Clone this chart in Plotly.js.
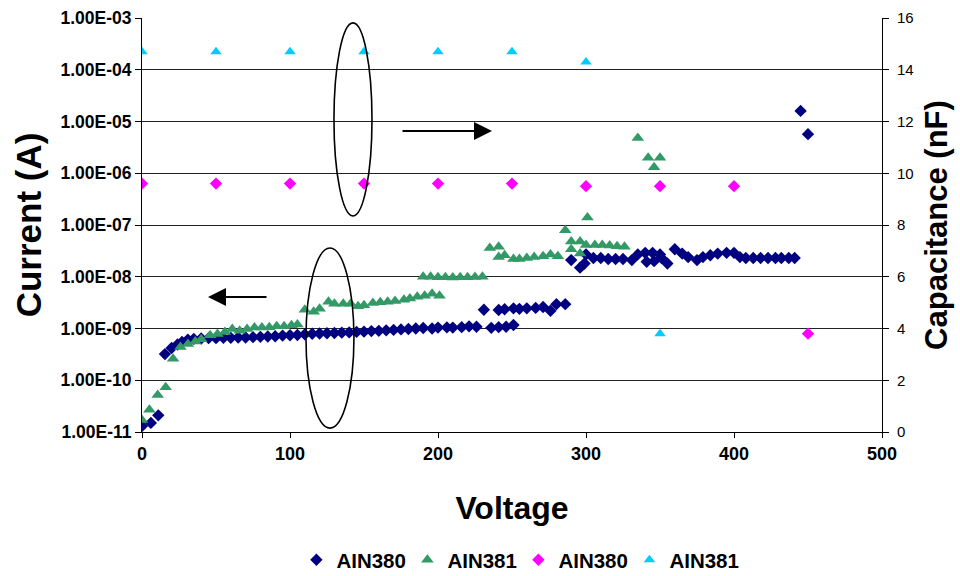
<!DOCTYPE html>
<html>
<head>
<meta charset="utf-8">
<script src="https://cdn.plot.ly/plotly-3.0.1.min.js"></script>
<style>html,body{margin:0;padding:0;background:#fff;}#chart{width:960px;height:576px;}</style>
</head>
<body>
<div id="chart"></div>
<script>
// AIN380 current (A) vs voltage (V)
const v380I = [0, 6, 11, 15.5, 20, 24, 27, 31, 35, 40, 45, 50, 55, 60, 65, 70, 75, 80, 85, 90, 95, 100, 105, 110, 115, 120, 125, 130, 135, 140, 145, 150, 155, 160, 165, 170, 175, 180, 185, 190, 196, 200, 206, 210, 216, 221, 226,
  236, 241, 246, 251,
  231, 241, 245, 251, 255, 260, 266, 271, 276, 280, 286,
  290, 296, 299, 300, 305, 310, 315, 320, 325, 331,
  335, 340, 345, 350, 341, 346, 351, 355,
  360, 365, 369, 375, 379, 384, 389, 395, 400, 404, 408, 413, 418, 423, 428, 432, 437, 441,
  445, 450];
const i380 = [1.3e-11, 1.5e-11, 2.1e-11, 3.2e-10, 4.2e-10, 4.9e-10, 5.5e-10, 6.1e-10, 6.3e-10, 6.4e-10, 6.5e-10, 6.5e-10, 6.6e-10, 6.6e-10, 6.7e-10, 6.7e-10, 6.8e-10, 6.9e-10, 7.0e-10, 7.1e-10, 7.3e-10, 7.4e-10, 7.5e-10, 7.7e-10, 7.9e-10, 8.0e-10, 8.1e-10, 8.2e-10, 8.3e-10, 8.4e-10, 8.6e-10, 8.7e-10, 8.9e-10, 9.0e-10, 9.2e-10, 9.4e-10, 9.6e-10, 9.8e-10, 1.0e-9, 1.02e-9, 1.0e-9, 1.04e-9, 1.05e-9, 1.04e-9, 1.06e-9, 1.1e-9, 1.08e-9,
  1.03e-9, 1.06e-9, 1.08e-9, 1.17e-9,
  2.3e-9, 2.28e-9, 2.35e-9, 2.45e-9, 2.4e-9, 2.45e-9, 2.5e-9, 2.6e-9, 2.2e-9, 2.95e-9, 2.95e-9,
  2.1e-8, 1.5e-8, 1.8e-8, 2.7e-8, 2.3e-8, 2.3e-8, 2.2e-8, 2.2e-8, 2.2e-8, 2.1e-8,
  2.7e-8, 2.9e-8, 2.9e-8, 2.7e-8, 1.95e-8, 2.0e-8, 2.3e-8, 1.8e-8,
  3.4e-8, 2.8e-8, 2.4e-8, 2.1e-8, 2.4e-8, 2.6e-8, 2.8e-8, 2.9e-8, 2.9e-8, 2.4e-8, 2.3e-8, 2.3e-8, 2.3e-8, 2.3e-8, 2.3e-8, 2.3e-8, 2.3e-8, 2.3e-8,
  1.6e-5, 5.7e-6];

// AIN381 current (A) vs voltage (V)
const v381I = [0, 5, 10.6, 16, 21, 26, 31, 36, 40, 46, 51, 56, 61, 66, 71, 76, 81, 86, 91, 96, 101, 105,
  110, 116, 120, 126, 130, 136, 141, 146, 150, 156, 161, 166, 171, 177, 181, 186, 191, 196, 201,
  190, 195, 200, 205, 210, 215, 220, 225, 230,
  235, 241, 241, 245, 251, 255, 260, 265, 271, 276, 281,
  286, 290, 296, 290, 296, 300, 301, 306, 311, 316, 321, 326,
  335, 342, 346, 350];
const i381 = [1.7e-11, 2.7e-11, 5.2e-11, 7.3e-11, 2.6e-10, 4.4e-10, 5.0e-10, 5.6e-10, 6.2e-10, 7.4e-10, 7.8e-10, 8.6e-10, 9.8e-10, 9.0e-10, 9.8e-10, 1.04e-9, 1.04e-9, 1.06e-9, 1.1e-9, 1.1e-9, 1.15e-9, 1.2e-9,
  2.3e-9, 2.1e-9, 2.4e-9, 3.3e-9, 3.0e-9, 3.0e-9, 3.0e-9, 2.7e-9, 2.8e-9, 3.1e-9, 3.2e-9, 3.3e-9, 3.4e-9, 3.6e-9, 3.8e-9, 4.1e-9, 4.3e-9, 4.7e-9, 4.3e-9,
  1.0e-8, 1.0e-8, 9.8e-9, 9.8e-9, 9.7e-9, 9.8e-9, 9.8e-9, 9.9e-9, 1.0e-8,
  3.6e-8, 3.8e-8, 2.4e-8, 2.6e-8, 2.2e-8, 2.2e-8, 2.3e-8, 2.4e-8, 2.5e-8, 2.7e-8, 2.5e-8,
  7.9e-8, 4.8e-8, 4.8e-8, 3.4e-8, 2.8e-8, 4.1e-8, 1.4e-7, 4.1e-8, 4.1e-8, 4.0e-8, 3.9e-8, 3.8e-8,
  4.8e-6, 2.0e-6, 1.3e-6, 2.0e-6];

// Capacitance (nF) vs voltage (V)
const v380C = [0, 50, 100, 150, 200, 250, 300, 350, 400, 450];
const c380 = [9.6, 9.6, 9.6, 9.6, 9.6, 9.6, 9.5, 9.5, 9.5, 3.8];
const v381C = [0, 50, 100, 150, 200, 250, 300, 350];
const c381 = [14.7, 14.7, 14.7, 14.7, 14.7, 14.7, 14.3, 3.8];

const leftTickVals = [1e-11, 1e-10, 1e-9, 1e-8, 1e-7, 1e-6, 1e-5, 1e-4, 1e-3];
const leftTickText = ['1.00E-11', '1.00E-10', '1.00E-09', '1.00E-08', '1.00E-07', '1.00E-06', '1.00E-05', '1.00E-04', '1.00E-03'];
const xTickVals = [0, 100, 200, 300, 400, 500];
const rightTickVals = [0, 2, 4, 6, 8, 10, 12, 14, 16];

const FONT = 'Arial, "Liberation Sans", sans-serif';

const traces = [
  {x: v380I, y: i380, name: 'AIN380', type: 'scatter', mode: 'markers', yaxis: 'y',
   marker: {symbol: 'diamond', size: 9.5, color: '#000080'}},
  {x: v381I, y: i381, name: 'AIN381', type: 'scatter', mode: 'markers', yaxis: 'y',
   marker: {symbol: 'triangle-up', size: 11, color: '#339966'}},
  {x: v380C, y: c380, name: 'AIN380', type: 'scatter', mode: 'markers', yaxis: 'y2',
   marker: {symbol: 'diamond', size: 9.5, color: '#FF00FF'}},
  {x: v381C, y: c381, name: 'AIN381', type: 'scatter', mode: 'markers', yaxis: 'y2',
   marker: {symbol: 'triangle-up', size: 10, color: '#00CCFF'}}
];

const layout = {
  width: 960, height: 576,
  margin: {l: 142, r: 78, t: 18, b: 144, autoexpand: false},
  paper_bgcolor: '#fff', plot_bgcolor: '#fff',
  font: {family: FONT, color: '#000'},
  showlegend: true,
  legend: {orientation: 'h', x: 0.54, xanchor: 'center', xref: 'container', yref: 'container', y: 0.028, yanchor: 'middle',
    font: {family: FONT, size: 20.5, weight: 'bold', color: '#000'}, bgcolor: 'rgba(0,0,0,0)',
    itemwidth: 30, entrywidth: 66, entrywidthmode: 'pixels'},
  xaxis: {range: [0, 500], tickvals: xTickVals, showgrid: false, zeroline: false,
    showline: true, linecolor: '#000', linewidth: 1, ticks: 'outside', ticklen: 5, tickcolor: '#000',
    tickfont: {family: FONT, size: 18, weight: 'bold'},
    title: {text: 'Voltage', font: {family: FONT, size: 32, weight: 'bold'}, standoff: 34}},
  yaxis: {type: 'log', range: [-11, -3], tickvals: leftTickVals, ticktext: leftTickText,
    showgrid: true, gridcolor: '#222', gridwidth: 1, zeroline: false,
    showline: true, linecolor: '#000', linewidth: 1, ticks: 'outside', ticklen: 6, tickcolor: '#000',
    tickfont: {family: FONT, size: 17.5, weight: 'bold'},
    title: {text: 'Current (A)', font: {family: FONT, size: 35, weight: 'bold'}, standoff: 8}},
  yaxis2: {overlaying: 'y', side: 'right', range: [0, 16], tickvals: rightTickVals,
    showgrid: false, zeroline: false,
    showline: true, linecolor: '#000', linewidth: 1, ticks: 'outside', ticklen: 6, tickcolor: '#000',
    ticklabelstandoff: 5,
    tickfont: {family: FONT, size: 15},
    title: {text: 'Capacitance (nF)', font: {family: FONT, size: 31, weight: 'bold'}, standoff: 12}},
  shapes: [
    {type: 'circle', xref: 'x', yref: 'y2', x0: 129.7, x1: 155.4, y0: 8.35, y1: 15.81,
     line: {color: '#000', width: 1.6}},
    {type: 'circle', xref: 'x', yref: 'y2', x0: 110.8, x1: 143.2, y0: 0.15, y1: 7.11,
     line: {color: '#000', width: 1.6}}
  ],
  annotations: [
    {xref: 'x', yref: 'y2', x: 236.5, y: 11.63, text: '', showarrow: true, ax: -91, ay: 0,
     arrowhead: 2, arrowsize: 1.8, arrowwidth: 2, arrowcolor: '#000'},
    {xref: 'x', yref: 'y2', x: 44.6, y: 5.22, text: '', showarrow: true, ax: 60, ay: 0,
     arrowhead: 2, arrowsize: 1.8, arrowwidth: 2, arrowcolor: '#000'}
  ]
};

Plotly.newPlot('chart', traces, layout, {displayModeBar: false, responsive: false});
</script>
</body>
</html>
